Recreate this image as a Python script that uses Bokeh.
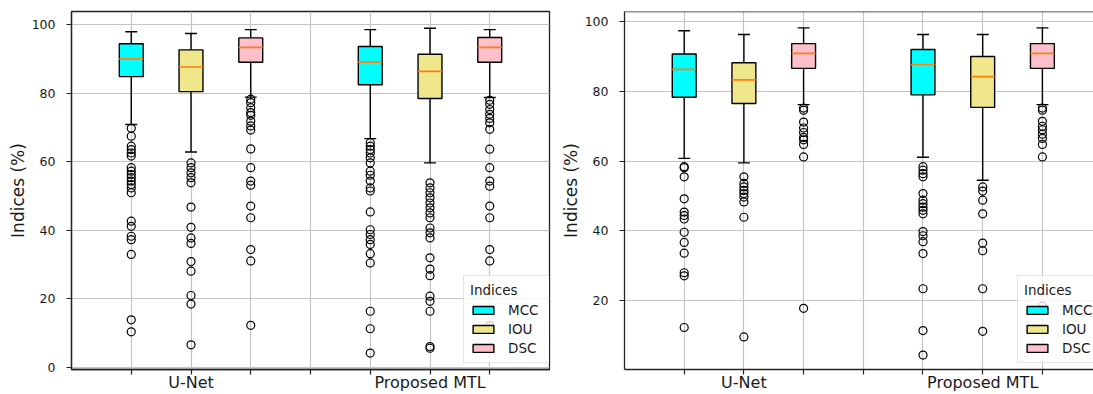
from bokeh.plotting import figure
from bokeh.models import ColumnDataSource, Range1d, FixedTicker, Legend, LegendItem, Span
from bokeh.layouts import row
from bokeh.embed import file_html
from bokeh.resources import INLINE

groups = ["U-Net", "Proposed MTL"]
indices = ["MCC", "IOU", "DSC"]
colors = ["#00ffff", "#f0e68c", "#ffc0cb"]

# Box order in each panel: U-Net MCC, IOU, DSC, Proposed MTL MCC, IOU, DSC
# ---------------- left panel ----------------
left_whisker_low = [70.9, 62.9, 78.9, 66.8, 59.7, 78.8]
left_q1 = [84.9, 80.5, 89.1, 82.5, 78.5, 89.1]
left_median = [90.1, 87.7, 93.4, 89.1, 86.4, 93.4]
left_q3 = [94.5, 92.7, 96.2, 93.7, 91.4, 96.3]
left_whisker_high = [98.0, 97.5, 98.6, 98.6, 99.0, 98.6]

left_out_unet_mcc = [69.8, 67.5, 64.6, 63.6, 62.6, 61.7, 58.3, 57.3, 56.3, 55.4, 54.4,
                     53.4, 52.4, 51.0, 42.7, 41.2, 38.3, 37.3, 33.0, 13.9, 10.4]
left_out_unet_iou = [59.7, 58.3, 56.8, 55.4, 53.9, 46.8, 40.9, 37.8, 36.2, 30.9, 28.1,
                     21.0, 18.5, 6.6]
left_out_unet_dsc = [78.3, 77.3, 75.8, 74.4, 73.6, 71.9, 70.5, 69.3, 63.8, 58.3, 54.4,
                     53.2, 47.1, 43.7, 34.4, 31.1, 12.3]
left_out_mtl_mcc = [65.6, 64.6, 63.6, 62.6, 61.2, 59.7, 57.3, 56.1, 54.4, 52.4, 51.5,
                    45.4, 40.2, 38.8, 37.3, 35.9, 33.2, 30.5, 16.4, 11.3, 4.2]
left_out_mtl_iou = [53.9, 52.4, 51.0, 49.5, 48.0, 46.6, 45.1, 43.7, 40.7, 39.3, 37.8,
                    32.0, 28.7, 26.8, 20.8, 19.3, 16.4, 6.1, 5.6]
left_out_mtl_dsc = [78.0, 76.8, 75.3, 73.9, 72.7, 71.4, 69.5, 63.7, 58.3, 54.4, 52.9,
                    47.1, 43.7, 34.4, 31.1, 12.3]

# ---------------- right panel ----------------
right_whisker_low = [60.8, 59.5, 76.2, 61.1, 54.5, 76.2]
right_q1 = [78.3, 76.5, 86.6, 79.0, 75.4, 86.6]
right_median = [86.3, 83.3, 90.9, 87.7, 84.2, 90.9]
right_q3 = [90.7, 88.2, 93.7, 92.0, 90.0, 93.7]
right_whisker_high = [97.4, 96.3, 98.2, 96.3, 96.3, 98.2]

right_out_unet_mcc = [58.4, 58.1, 55.5, 49.2, 45.4, 44.4, 43.4, 39.6, 36.7, 33.6, 28.0,
                      27.1, 12.3]
right_out_unet_iou = [55.5, 53.6, 52.6, 51.6, 50.7, 49.7, 48.3, 43.9, 9.6]
right_out_unet_dsc = [75.2, 74.6, 71.2, 69.5, 68.2, 66.8, 66.1, 64.8, 61.2, 17.8]
right_out_mtl_mcc = [58.4, 57.4, 56.4, 55.5, 50.7, 48.8, 47.8, 46.8, 45.9, 44.9, 39.8,
                     38.6, 36.9, 33.5, 23.4, 11.4, 4.4]
right_out_mtl_iou = [52.6, 51.4, 48.8, 44.9, 36.5, 34.3, 23.4, 11.2]
right_out_mtl_dsc = [75.2, 74.6, 71.4, 70.0, 69.0, 67.7, 66.5, 64.8, 61.2, 18.4]

y_ticks = [0, 20, 40, 60, 80, 100]

FONT = "DejaVu Sans"
TXT = "#1a1a1a"
AX = "#222222"

# box positions: groups of three, one empty slot between groups
positions = [g * 4 + i + 1 for g in range(len(groups)) for i in range(len(indices))]
x_ticks = list(range(1, 4 * len(groups)))
x_labels = {t: "" for t in x_ticks}
for g, name in enumerate(groups):
    x_labels[g * 4 + 2] = name


def make_panel(wlo, q1, med, q3, whi, outs, y_start, y_end, x_end, width,
               border_left, border_right, legend_x, full_outline):
    p = figure(width=width, height=394,
               x_range=Range1d(0, x_end), y_range=Range1d(y_start, y_end),
               output_backend="svg", toolbar_location=None,
               min_border_left=border_left, min_border_right=border_right,
               min_border_top=11, min_border_bottom=0)
    p.background_fill_color = "white"
    p.border_fill_color = "white"
    if full_outline:
        p.outline_line_color = AX
        p.outline_line_width = 1.3
    else:
        p.outline_line_color = None
        p.add_layout(Span(location=y_end, dimension="width", line_color=AX, line_width=1.6))

    # grids
    p.xgrid.ticker = FixedTicker(ticks=x_ticks)
    p.ygrid.ticker = FixedTicker(ticks=y_ticks)
    for gr in (p.xgrid, p.ygrid):
        gr.grid_line_color = "#c4c4c4"
        gr.grid_line_width = 1.2

    # whiskers
    p.segment(x0=positions, y0=q3, x1=positions, y1=whi, line_color="black", line_width=1.4)
    p.segment(x0=positions, y0=q1, x1=positions, y1=wlo, line_color="black", line_width=1.4)
    # caps
    cl = [x - 0.1 for x in positions]
    cr = [x + 0.1 for x in positions]
    p.segment(x0=cl, y0=whi, x1=cr, y1=whi, line_color="black", line_width=1.4)
    p.segment(x0=cl, y0=wlo, x1=cr, y1=wlo, line_color="black", line_width=1.4)

    # boxes
    box_renderers = []
    n = len(indices)
    for i in range(n):
        sel = [k for k in range(len(positions)) if k % n == i]
        src = ColumnDataSource(dict(x=[positions[k] for k in sel],
                                    top=[q3[k] for k in sel],
                                    bottom=[q1[k] for k in sel]))
        r = p.vbar(x="x", top="top", bottom="bottom", width=0.4, source=src,
                   fill_color=colors[i], line_color="black", line_width=1.4)
        box_renderers.append(r)

    # medians
    ml = [x - 0.2 for x in positions]
    mr = [x + 0.2 for x in positions]
    p.segment(x0=ml, y0=med, x1=mr, y1=med, line_color="#ff7f0e", line_width=1.7)

    # outliers
    ox, oy = [], []
    for k, vals in enumerate(outs):
        ox += [positions[k]] * len(vals)
        oy += vals
    p.scatter(x=ox, y=oy, marker="circle", size=8, fill_color=None,
              line_color="black", line_width=1.2)

    # axes
    xa = p.xaxis[0]
    xa.ticker = FixedTicker(ticks=x_ticks)
    xa.major_label_overrides = x_labels
    xa.major_label_text_font = FONT
    xa.major_label_text_font_size = "16px"
    xa.major_label_text_color = TXT
    xa.major_label_standoff = -2
    xa.major_tick_out = 5
    xa.major_tick_in = 0
    xa.minor_tick_line_color = None
    xa.axis_line_color = AX
    xa.axis_line_width = 1.3
    xa.major_tick_line_color = AX
    xa.major_tick_line_width = 1.2

    ya = p.yaxis[0]
    ya.ticker = FixedTicker(ticks=y_ticks)
    ya.axis_label = "Indices (%)"
    ya.axis_label_text_font = FONT
    ya.axis_label_text_font_size = "17px"
    ya.axis_label_text_font_style = "normal"
    ya.axis_label_text_color = TXT
    ya.axis_label_standoff = 1
    ya.major_label_text_font = FONT
    ya.major_label_text_font_size = "12.5px"
    ya.major_label_text_color = TXT
    ya.major_label_standoff = 11
    ya.major_tick_out = 5
    ya.major_tick_in = 0
    ya.minor_tick_line_color = None
    ya.axis_line_color = AX
    ya.axis_line_width = 1.3
    ya.major_tick_line_color = AX
    ya.major_tick_line_width = 1.2

    legend = Legend(items=[LegendItem(label=indices[i], renderers=[box_renderers[i]])
                           for i in range(n)],
                    location=(legend_x, 6), title="Indices")
    legend.title_text_font = FONT
    legend.title_text_font_size = "13.5px"
    legend.title_text_font_style = "normal"
    legend.title_text_color = TXT
    legend.title_text_align = "center"
    legend.title_standoff = 4
    legend.label_text_font = FONT
    legend.label_text_font_size = "13.5px"
    legend.label_text_color = TXT
    legend.glyph_width = 26
    legend.glyph_height = 10
    legend.label_height = 16
    legend.label_width = 35
    legend.label_standoff = 12
    legend.spacing = 3
    legend.padding = 6
    legend.border_line_color = "#cccccc"
    legend.border_line_width = 1
    legend.background_fill_alpha = 0.8
    p.add_layout(legend)
    return p


left = make_panel(left_whisker_low, left_q1, left_median, left_q3, left_whisker_high,
                  [left_out_unet_mcc, left_out_unet_iou, left_out_unet_dsc,
                   left_out_mtl_mcc, left_out_mtl_iou, left_out_mtl_dsc],
                  -0.6, 103.9, 8, 556, 71, 7, 392, True)
right = make_panel(right_whisker_low, right_q1, right_median, right_q3, right_whisker_high,
                   [right_out_unet_mcc, right_out_unet_iou, right_out_unet_dsc,
                    right_out_mtl_mcc, right_out_mtl_iou, right_out_mtl_dsc],
                   0.25, 102.9, 7.856, 537, 68, 0, 393, False)

layout = row(left, right)
open("out.html", "w").write(file_html(layout, INLINE))
